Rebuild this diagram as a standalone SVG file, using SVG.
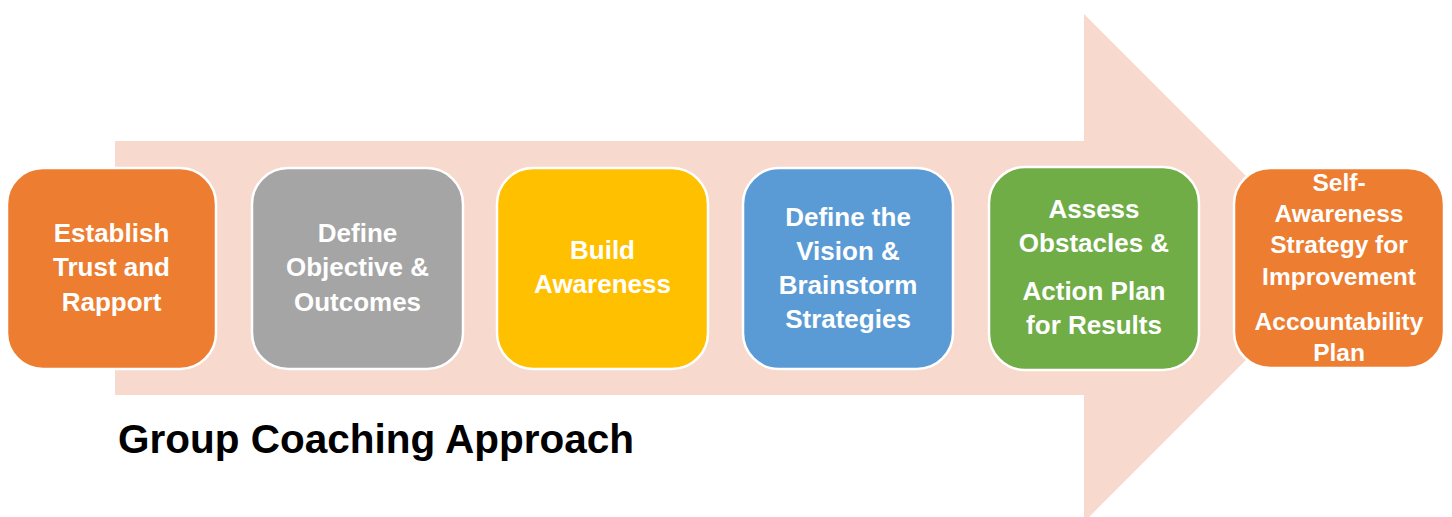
<svg xmlns="http://www.w3.org/2000/svg" width="1452" height="517" viewBox="0 0 1452 517">
<style>
.box{stroke:#ffffff;stroke-width:2.5}
.t{font-family:"Liberation Sans",Arial,sans-serif;font-weight:bold;font-size:26px;fill:#ffffff;text-anchor:middle}
.s{font-size:24.5px}
.title{font-family:"Liberation Sans",Arial,sans-serif;font-weight:bold;font-size:40.5px;fill:#000000}
</style>
<rect width="1452" height="517" fill="#ffffff"/>
<g id="arrow">
<polygon points="115,141 1084,141 1084,14 1338,268 1084,522 1084,395 115,395" fill="#F8D9CE"/>
</g>
<g id="connectors"></g>
<g id="n1">
<rect class="box" x="7" y="168" width="209" height="201" rx="36" fill="#ED7D31"/>
<text class="t" x="111.5" y="242">Establish</text>
<text class="t" x="111.5" y="276">Trust and</text>
<text class="t" x="111.5" y="311">Rapport</text>
</g>
<g id="n2">
<rect class="box" x="252" y="168" width="211" height="201" rx="36" fill="#A5A5A5"/>
<text class="t" x="357.5" y="242">Define</text>
<text class="t" x="357.5" y="276">Objective &amp;</text>
<text class="t" x="357.5" y="311">Outcomes</text>
</g>
<g id="n3">
<rect class="box" x="497" y="168" width="211" height="201" rx="36" fill="#FFC000"/>
<text class="t" x="602.5" y="259">Build</text>
<text class="t" x="602.5" y="293">Awareness</text>
</g>
<g id="n4">
<rect class="box" x="743" y="168" width="210" height="201" rx="36" fill="#5B9BD5"/>
<text class="t" x="848" y="226">Define the</text>
<text class="t" x="848" y="260">Vision &amp;</text>
<text class="t" x="848" y="294">Brainstorm</text>
<text class="t" x="848" y="328">Strategies</text>
</g>
<g id="n5">
<rect class="box" x="989" y="167" width="210" height="203" rx="36" fill="#70AD47"/>
<text class="t" x="1094" y="218">Assess</text>
<text class="t" x="1094" y="252">Obstacles &amp;</text>
<text class="t" x="1094" y="300">Action Plan</text>
<text class="t" x="1094" y="334">for Results</text>
</g>
<g id="n6">
<rect class="box" x="1234" y="168" width="210" height="200" rx="36" fill="#ED7D31"/>
<text class="t s" x="1339" y="191">Self-</text>
<text class="t s" x="1339" y="222">Awareness</text>
<text class="t s" x="1339" y="253">Strategy for</text>
<text class="t s" x="1339" y="285">Improvement</text>
<text class="t s" x="1339" y="330">Accountability</text>
<text class="t s" x="1339" y="361">Plan</text>
</g>
<g id="title">
<text class="title" x="118" y="453">Group Coaching Approach</text>
</g>
</svg>
